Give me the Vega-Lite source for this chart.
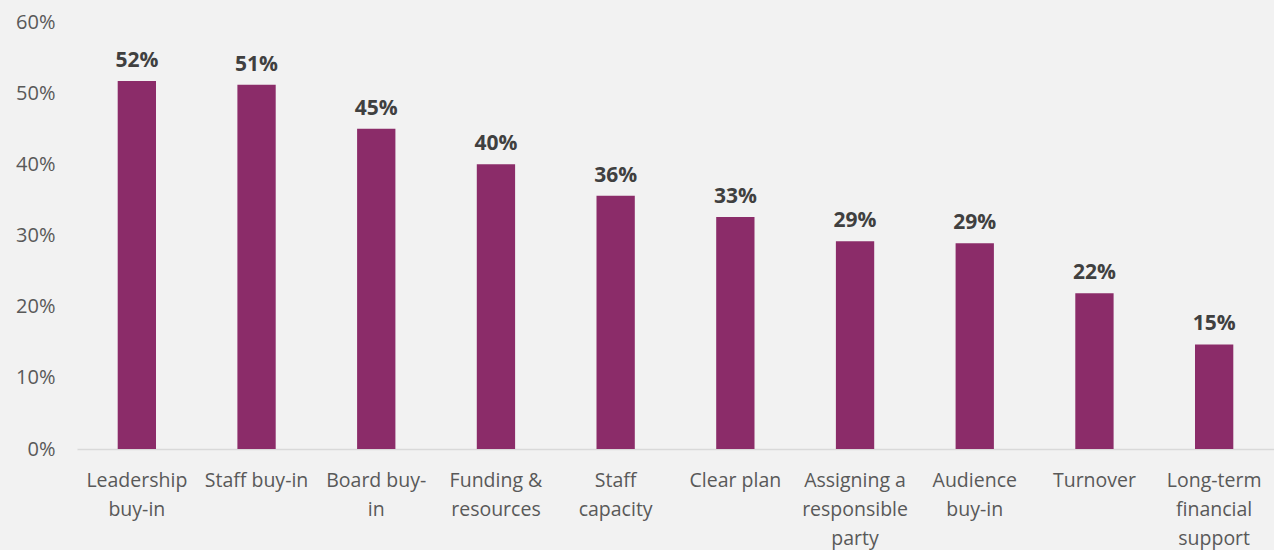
{
  "$schema": "https://vega.github.io/schema/vega-lite/v6.json",
  "width": 1197,
  "height": 427,
  "autosize": {"type": "none"},
  "padding": {"left": 77, "top": 22, "right": 0, "bottom": 101},
  "background": "#f2f2f2",
  "config": {"view": {"stroke": null}, "font": "Open Sans"},
  "data": {
    "values": [
      {"category": "Leadership|buy-in", "value": 0.517},
      {"category": "Staff buy-in", "value": 0.512},
      {"category": "Board buy-|in", "value": 0.45},
      {"category": "Funding &|resources", "value": 0.40},
      {"category": "Staff|capacity", "value": 0.356},
      {"category": "Clear plan", "value": 0.326},
      {"category": "Assigning a|responsible|party", "value": 0.292},
      {"category": "Audience|buy-in", "value": 0.289},
      {"category": "Turnover", "value": 0.219},
      {"category": "Long-term|financial|support", "value": 0.147}
    ]
  },
  "encoding": {
    "x": {
      "field": "category",
      "type": "nominal",
      "sort": null,
      "scale": {"paddingInner": 0.68, "paddingOuter": 0.34},
      "axis": {
        "title": null,
        "labelAngle": 0,
        "labelExpr": "split(datum.value, '|')",
        "labelFont": "Open Sans",
        "labelFontSize": 19.5,
        "labelColor": "#595959",
        "labelLineHeight": 29,
        "labelBaseline": "top",
        "labelPadding": 22,
        "ticks": false,
        "domainColor": "#d9d9d9",
        "domainWidth": 1.5,
        "labelLimit": 0,
        "labelOverlap": false
      }
    },
    "y": {
      "field": "value",
      "type": "quantitative",
      "scale": {"domain": [0, 0.6], "nice": false},
      "axis": {
        "title": null,
        "format": ".0%",
        "values": [0, 0.1, 0.2, 0.3, 0.4, 0.5, 0.6],
        "labelOverlap": false,
        "grid": false,
        "domain": false,
        "ticks": false,
        "labelFont": "Open Sans",
        "labelFontSize": 20,
        "labelColor": "#595959",
        "labelPadding": 22
      }
    }
  },
  "layer": [
    {"mark": {"type": "bar", "color": "#8b2c69"}},
    {
      "mark": {
        "type": "text",
        "dy": -10,
        "baseline": "bottom",
        "font": "Open Sans",
        "fontSize": 21,
        "fontWeight": "bold",
        "color": "#404040"
      },
      "encoding": {"text": {"field": "value", "type": "quantitative", "format": ".0%"}}
    }
  ]
}
